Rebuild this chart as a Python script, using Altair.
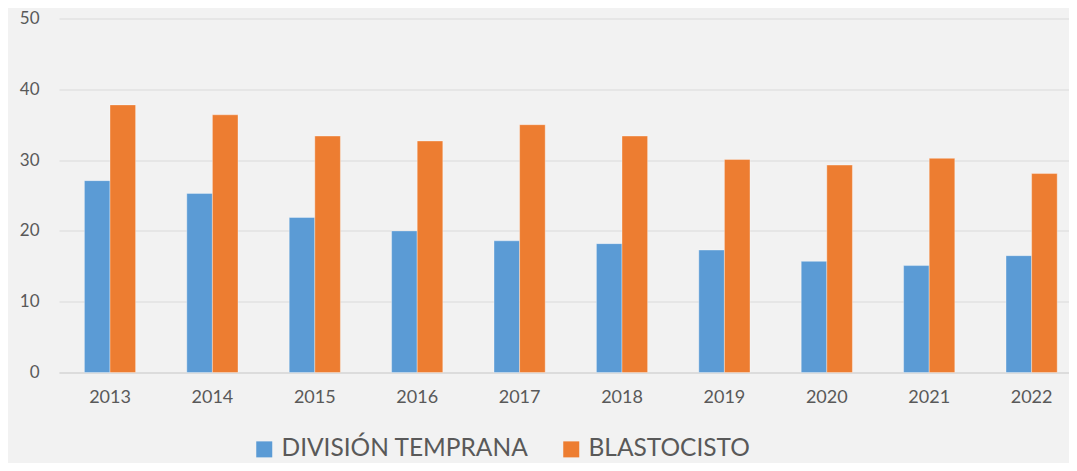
import altair as alt
import pandas as pd

years = ["2013", "2014", "2015", "2016", "2017", "2018", "2019", "2020", "2021", "2022"]
division_temprana = [27.1, 25.3, 21.9, 20.0, 18.6, 18.2, 17.3, 15.7, 15.1, 16.5]
blastocisto = [37.8, 36.4, 33.4, 32.7, 35.0, 33.4, 30.1, 29.3, 30.25, 28.1]
series = ["DIVISIÓN TEMPRANA", "BLASTOCISTO"]
colors = ["#5b9bd5", "#ed7d31"]
y_ticks = [0, 10, 20, 30, 40, 50]

rows = []
for i, yr in enumerate(years):
    rows.append({"year": yr, "series": series[0], "value": division_temprana[i]})
    rows.append({"year": yr, "series": series[1], "value": blastocisto[i]})
df = pd.DataFrame(rows)

FONT = "Lato"
TXT = "#595959"

chart = alt.Chart(df).mark_bar(
    stroke="#ffffff", strokeWidth=0.7, strokeOpacity=0.5
).encode(
    x=alt.X(
        "year:N", sort=years,
        scale=alt.Scale(paddingInner=0.5, paddingOuter=0.1816, align=0.683),
        axis=alt.Axis(title=None, labelAngle=0, ticks=False, domain=True,
                      domainColor="#d9d9d9", domainWidth=1.5, labelPadding=16,
                      labelFontSize=18, labelColor=TXT, labelFont=FONT, grid=False),
    ),
    xOffset=alt.XOffset("series:N", sort=series, scale=alt.Scale(domain=series)),
    y=alt.Y(
        "value:Q", scale=alt.Scale(domain=[0, 50]),
        axis=alt.Axis(title=None, values=y_ticks, ticks=False, domain=False,
                      grid=True, gridColor="#d9d9d9", gridWidth=1.2, labelPadding=20,
                      labelFontSize=17, labelColor=TXT, labelFont=FONT),
    ),
    color=alt.Color(
        "series:N",
        scale=alt.Scale(domain=series, range=colors),
        legend=alt.Legend(title=None, orient="none", legendX=193, legendY=418.5,
                          direction="horizontal", symbolType="square", symbolSize=256,
                          symbolStrokeWidth=0, symbolOpacity=1,
                          labelFontSize=24.5, labelColor=TXT, labelFont=FONT,
                          labelLimit=0, columnPadding=30, labelOffset=5),
    ),
).properties(
    width=1010, height=354, background="#f2f2f2",
    padding={"left": 51, "top": 10.5, "right": 0, "bottom": 90},
    autosize=alt.AutoSizeParams(type="none"),
).configure_view(stroke=None)

chart.save("out.html", embed_options={"renderer": "svg", "actions": False})
